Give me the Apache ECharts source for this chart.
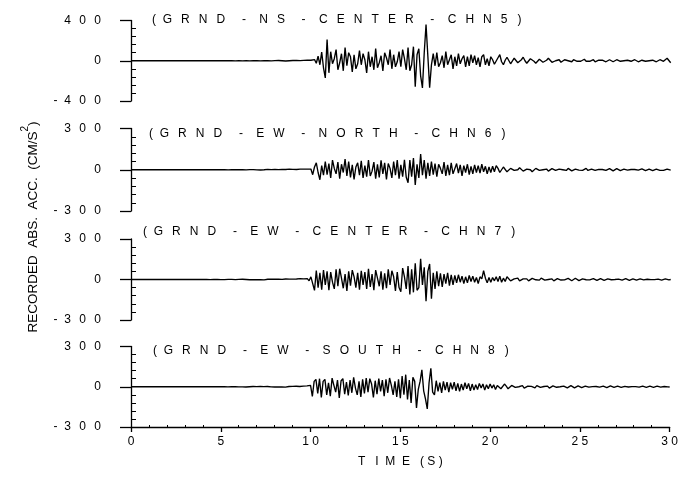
<!DOCTYPE html>
<html><head><meta charset="utf-8">
<script src="https://cdn.jsdelivr.net/npm/echarts@6/dist/echarts.min.js"></script>
<style>html,body{margin:0;padding:0;background:#fff}#c{width:681px;height:481px}</style>
</head><body><div id="c"></div>
<script>
// ---- data ----
const DT = 0.1;            // sample spacing, seconds (t = index * DT, 0..30 s)
const T_MIN = 0, T_MAX = 30, T_STEP = 5;
const TITLES = ['(GRND - NS - CENTER - CHN5)', '(GRND - EW - NORTH - CHN6)', '(GRND - EW - CENTER - CHN7)', '(GRND - EW - SOUTH - CHN8)'];
const Y_LIMITS = [400, 300, 300, 300];
const Y_NAME = 'RECORDED  ABS.  ACC.  (CM/S';
const X_NAME = 'T   I  M  E   ( S )';

const CHN5 = [
0,0,0,0,0,0,0,0,0,0,
0,0,0,0,0,0,0,0,0,0,
0,0,0,0,0,0,0,0,0,0,
0,0,0,0,0,0,0,0,0,0,
0,0,0,0,0,0,0,0,0,0,
0,1,0,-1,0,1,0,0,-1,0,
1,0,-1,0,2,0,-1,1,0,-1,
0,2,-1,0,1,-2,0,1,-1,2,
1,-2,2,-1,0,3,-2,1,0,-2,
2,-3,4,-2,1,-4,3,-2,5,-3,
5,-8,12,-25,45,-40,85,-70,-170,210,
-120,90,-30,20,110,-90,-20,70,-100,130,
-50,80,40,-110,60,-80,-30,100,-40,70,
10,-120,90,-60,40,-90,120,-70,-20,50,
-100,80,30,-40,110,-80,60,-60,-10,90,
-60,110,20,-90,130,-100,-40,140,-257,60,
120,-150,-270,80,360,50,-267,-40,70,-50,
80,-60,-20,50,-70,90,-40,10,60,-80,
40,-50,70,-30,20,50,-60,40,-50,60,
-20,50,-40,30,-60,40,60,-40,20,-50,
40,10,-35,-20,30,60,-10,-40,5,35,
20,-30,-15,25,30,-20,-30,10,35,0,
-25,-10,20,25,-5,-25,-10,15,20,-15,
-20,5,25,10,-15,-20,0,15,10,-15,
-15,10,20,0,-15,-10,10,15,-5,-15,
-5,10,15,-5,-15,-5,10,10,-10,-10,
5,15,5,-10,-10,5,10,0,-10,-5,
10,10,-5,-10,0,10,5,-10,-5,5,
10,0,-10,-5,5,10,-5,-10,0,10,
5,-5,-10,0,10,5,-5,10,25,10,
-20];

const CHN6 = [
0,0,0,0,0,0,0,0,0,0,
0,0,0,0,0,0,0,0,0,0,
0,0,0,0,0,0,0,0,0,0,
0,0,0,0,0,0,0,0,0,0,
0,0,0,0,0,0,0,0,0,0,
0,0,1,0,-1,0,0,1,0,0,
1,-1,0,2,-1,0,1,-2,1,0,
-1,2,-2,1,0,-2,3,-1,1,-2,
2,-3,1,-2,3,-1,2,-3,4,-2,
3,-4,2,-5,4,-3,5,-6,4,-8,
5,-36,20,50,-20,-73,30,-40,60,-35,
45,-60,70,10,-30,55,-65,40,-20,78,
-45,60,-55,35,-70,20,50,-40,65,-60,
30,-50,70,-45,-10,55,-65,40,-55,68,
-30,50,-70,45,10,-60,60,-40,70,-65,
35,-50,73,-55,-95,70,-50,85,-110,40,
-60,115,-40,70,-65,50,-45,60,-35,45,
-50,40,10,-30,55,-45,35,-40,50,-30,
-40,45,-25,35,-45,30,-20,40,-35,25,
-30,35,-20,30,-25,40,-15,25,-30,20,
-20,25,-15,30,10,-20,-10,20,15,-15,
-10,10,15,-5,-15,0,15,10,-10,-10,
5,15,0,-15,-10,10,12,-5,-12,0,
12,5,-10,-8,8,12,-5,-10,5,10,
0,-12,-5,10,8,-8,-10,5,10,-3,
-10,-5,8,10,-5,-8,5,8,-5,-8,
3,8,2,-8,-5,6,8,-3,-8,0,
8,4,-6,-6,4,7,-3,-7,2,6,
2,-6,-3,5,6,-4,-6,3,5,-2,
-6,-2,5,4,-4,-10,-5,3,5,0,
-3];

const CHN7 = [
0,0,0,0,0,0,0,0,0,0,
0,0,0,0,0,0,0,0,0,0,
0,0,0,0,0,0,0,0,0,0,
0,1,0,-1,0,1,0,-1,0,0,
1,-1,0,1,-1,2,0,-1,1,0,
-1,2,-1,0,1,-2,1,0,-1,2,
1,-2,2,-1,0,2,-2,1,-1,2,
-2,3,-1,2,-3,1,2,-2,3,-1,
2,-3,3,-2,1,-3,4,-2,3,-4,
3,-5,4,-3,6,-4,5,-7,6,-10,
20,-30,-81,67,-60,50,-75,70,-40,60,
-80,55,-20,-70,75,-50,80,10,-65,40,
-85,60,-45,70,20,-60,50,-75,65,-40,
55,-70,80,-55,40,-80,70,10,-50,60,
-75,45,-65,75,-40,65,20,-85,55,-60,
-90,85,20,-70,100,-110,75,-95,120,-80,
-60,153,-40,90,-160,60,115,-143,50,-70,
60,-50,45,-55,40,-30,50,-45,35,-40,
30,-25,35,-20,25,-30,20,-25,30,-15,
25,-20,15,-30,20,5,65,10,-25,15,
-20,15,-10,20,-15,25,-20,10,-15,20,
10,-10,-15,5,15,10,-10,-12,5,12,
5,-10,-8,8,12,-2,-12,-5,10,10,
-5,-12,0,12,5,-10,-8,6,10,-4,
-10,-3,8,8,-5,-9,3,9,2,-8,
-6,5,8,-2,-8,-3,6,7,-4,-7,
2,7,3,-6,-5,4,7,-2,-6,0,
6,3,-5,-5,3,6,-2,-6,1,5,
2,-5,-3,4,5,-3,-5,2,5,-1,
-5,-1,4,3,-4,-4,2,4,-2,-3,
0];

const CHN8 = [
0,0,0,0,0,0,0,0,0,0,
0,0,0,0,0,0,0,0,0,0,
0,0,0,0,0,0,0,0,0,0,
0,0,0,0,0,0,0,0,0,0,
0,0,0,0,0,0,0,0,0,0,
1,-1,0,1,-1,1,0,-1,1,0,
-1,2,-1,1,-2,1,0,-1,2,-1,
1,-2,2,-1,1,-2,2,0,-1,2,
-2,1,-2,3,-1,2,-3,1,2,-2,
3,-2,4,-3,2,-4,5,-3,6,-8,
10,-72,40,55,-50,60,-80,40,55,-60,
30,-70,64,10,-40,50,-84,45,60,-55,
35,-65,50,-45,70,-10,-60,40,-75,55,
-50,64,-40,60,20,-80,45,-55,60,-35,
50,-70,55,-45,65,10,-60,40,-75,55,
-85,80,-60,90,-95,50,-120,70,40,-158,
-20,40,126,-30,-90,-165,30,138,-40,-60,
45,-35,30,-45,40,-25,35,-40,30,-20,
35,-30,25,-35,20,-25,30,-15,25,-30,
20,-25,15,-20,25,-10,20,-25,15,-15,
20,-10,15,-20,10,15,-15,-10,20,5,
-15,-10,10,15,-5,-15,0,12,8,-10,
-12,5,12,3,-10,-8,8,10,-5,-10,
2,12,5,-10,-8,6,10,-4,-10,0,
9,5,-7,-8,4,8,-3,-8,2,7,
3,-6,-5,5,7,-3,-7,1,6,2,
-6,-3,5,5,-3,-6,2,6,0,-5,
-2,5,4,-4,-5,3,5,-2,-5,1,
5,1,-4,-3,4,4,-3,-4,2,4,
-1,-4,0,4,2,-3,-3,2,3,-1,
-2];

const TRACES = [CHN5, CHN6, CHN7, CHN8];

// ---- layout / styling ----
const FONT = 'Liberation Sans, Arial, Helvetica, sans-serif';
const GRID_TOPS = [20.5, 128.5, 239, 346.5];
const GRID_HEIGHTS = [80.5, 82.5, 81, 80.5];
const TITLE_POS = [[152, 13], [149, 127], [143, 225], [153, 344]];
const SP = '\u2002\u2009';

function spacedTitle(s) {
  const words = s.slice(1, -1).split(' - ');
  return '(  ' + words.map(w => w.split('').join('  \u2009')).join('     -    ') + '   )';
}
function yLab(v) {
  const d = String(Math.abs(v)).split('').join(SP);
  return v < 0 ? '-  ' + d : d;
}
function xLab(v) { return String(v).split('').join(' '); }

const grids = [], xAxes = [], yAxes = [], series = [], titles = [];
for (let i = 0; i < 4; i++) {
  grids.push({ left: 131, right: 10.3, top: GRID_TOPS[i], height: GRID_HEIGHTS[i], containLabel: false });
  const L = Y_LIMITS[i];
  yAxes.push({
    type: 'value', gridIndex: i, position: 'left', min: -L, max: L, interval: L,
    axisLine: { show: true, lineStyle: { color: '#000', width: 1.3 } },
    axisTick: { show: false, inside: true },
    minorTick: { show: true, splitNumber: 5, length: 5, lineStyle: { color: '#000', width: 1 } },
    axisLabel: { show: false }, splitLine: { show: false }, minorSplitLine: { show: false }
  });
  yAxes.push({
    type: 'value', gridIndex: i, position: 'left', offset: 0, min: -L, max: L, interval: L,
    axisLine: { show: false },
    axisTick: { show: true, length: 11, lineStyle: { color: '#000', width: 1.3 } },
    axisLabel: { show: true, margin: 30, color: '#000', fontSize: 12, fontFamily: FONT, formatter: yLab },
    splitLine: { show: false }
  });
  if (i < 3) {
    xAxes.push({ type: 'value', gridIndex: i, min: T_MIN, max: T_MAX, show: false });
  }
  titles.push({
    text: spacedTitle(TITLES[i]), left: TITLE_POS[i][0], top: TITLE_POS[i][1], padding: 0,
    textStyle: { color: '#000', fontSize: 12, fontWeight: 'normal', fontFamily: FONT, lineHeight: 14 }
  });
}
xAxes.push({
  type: 'value', gridIndex: 3, position: 'bottom', min: T_MIN, max: T_MAX, interval: T_STEP,
  axisLine: { show: true, onZero: false, lineStyle: { color: '#000', width: 1.3 } },
  axisTick: { show: true, length: 5, lineStyle: { color: '#000', width: 1.3 } },
  axisLabel: { color: '#000', fontSize: 12, fontFamily: FONT, margin: 9, formatter: xLab },
  splitLine: { show: false },
  name: X_NAME, nameLocation: 'middle', nameGap: 29,
  nameTextStyle: { color: '#000', fontSize: 12, fontFamily: FONT }
});
xAxes.push({
  type: 'value', gridIndex: 3, position: 'bottom', min: T_MIN, max: T_MAX, interval: T_STEP,
  axisLine: { show: false, onZero: false },
  axisTick: { show: false, inside: true },
  minorTick: { show: true, splitNumber: 5, length: 2, lineStyle: { color: '#000', width: 1 } },
  axisLabel: { show: false }, splitLine: { show: false }
});

for (let i = 0; i < 4; i++) {
  series.push({
    type: 'line', xAxisIndex: i, yAxisIndex: 2 * i,
    data: TRACES[i].map((v, k) => [k * DT, v]),
    showSymbol: false, symbol: 'none', sampling: 'none',
    lineStyle: { color: '#000', width: 1.35 }, silent: true, z: 3
  });
}

const chart = echarts.init(document.getElementById('c'), null, { renderer: 'canvas' });
chart.setOption({
  backgroundColor: '#fff',
  animation: false,
  title: titles,
  grid: grids,
  xAxis: xAxes,
  yAxis: yAxes,
  series: series,
  graphic: [{
    type: 'text', x: 30, y: 227, rotation: Math.PI / 2,
    style: {
      text: '{a|' + Y_NAME + '}{s|2}{a|)}',
      align: 'center', verticalAlign: 'middle',
      rich: {
        a: { fontSize: 13.5, fontFamily: FONT, fill: '#000', color: '#000', lineHeight: 20, verticalAlign: 'bottom' },
        s: { fontSize: 10, fontFamily: FONT, fill: '#000', color: '#000', lineHeight: 10, verticalAlign: 'top' }
      }
    }
  }]
});
</script>
</body></html>
